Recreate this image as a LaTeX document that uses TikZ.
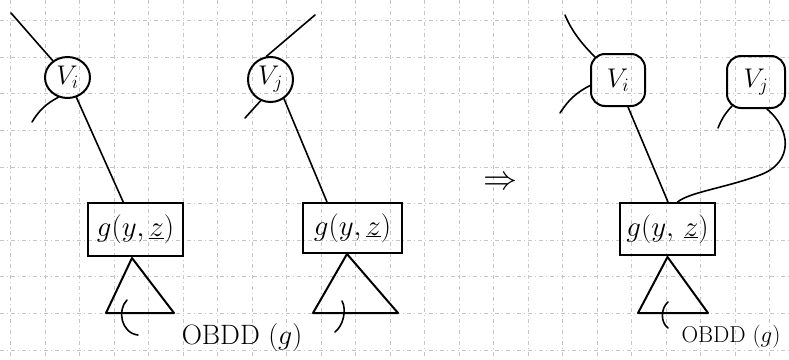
\RequirePackage{fix-cm}
\documentclass[tikz,border=0pt]{standalone}
\usetikzlibrary{shapes.geometric,calc}
\begin{document}
\begin{tikzpicture}[x=1pt,y=-1pt,
  gridline/.style={gray!45, line width=0.5pt, dash pattern=on 4pt off 3pt on 1pt off 3pt},
  vnode/.style={draw, ellipse, line width=2pt, inner sep=0pt, font=\fontsize{27}{30}\selectfont},
  bnode/.style={draw, rectangle, rounded corners=14pt, line width=2pt, inner sep=0pt, font=\fontsize{27}{30}\selectfont},
  gbox/.style={draw, rectangle, line width=2pt, inner sep=0pt, font=\fontsize{29}{32}\selectfont},
  edge/.style={line width=1.6pt, line cap=round},
  tri/.style={line width=2pt, line join=round},
  lbl/.style={inner sep=0pt, font=\fontsize{28}{30}\selectfont},
  lblsmall/.style={inner sep=0pt, font=\fontsize{23}{26}\selectfont}
]
\path[use as bounding box] (0,0) rectangle (789,359);
% background grid
\foreach \k in {0,...,22} \draw[gridline] ({10.5+34.5*\k},0) -- ({10.5+34.5*\k},359);
\foreach \k in {0,...,9} \draw[gridline] (0,{20.4+36.6*\k}) -- (789,{20.4+36.6*\k});

% ---------- left panel ----------
\node[vnode, minimum width=45pt, minimum height=41pt] (vi1) at (67.5,77.5) {$V_i$};
\node[gbox, minimum width=95pt, minimum height=53pt] (g1) at (135.5,229.5) {$g(y,\underline{z})$};
\coordinate (in1) at (11,13);
\coordinate (s1) at (32,122);
\draw[edge] (in1) -- (vi1);
\draw[edge] (vi1.245) to[bend right=15] (s1);
\draw[edge] (vi1) -- (g1);
\coordinate (a1) at ($(g1.south)+(-3.5,1)$);
\coordinate (bl1) at (106,313);
\coordinate (br1) at (174,313);
\draw[tri] (bl1) -- (a1) -- (br1) -- cycle;
\draw[edge] (127,300) .. controls (117,310) and (121,333) .. (138,335);
\node[lbl] (o1) at (242,337) {OBDD $(g)$};

% ---------- middle panel ----------
\node[vnode, minimum width=45pt, minimum height=45pt] (vj1) at (270.5,79.5) {$V_j$};
\node[gbox, minimum width=99pt, minimum height=50pt] (g2) at (352.5,228) {$g(y,\underline{z})$};
\coordinate (in2) at (315,15);
\coordinate (s2) at (245,118);
\draw[edge] (in2) -- (vj1.100);
\draw[edge] (vj1.245) -- (s2);
\draw[edge] (vj1.-55) -- ($(g2.north west)+(25,0)$);
\coordinate (a2) at ($(g2.south)+(-5.5,0)$);
\coordinate (bl2) at (313,313);
\coordinate (br2) at (398,313);
\draw[tri] (bl2) -- (a2) -- (br2) -- cycle;
\draw[edge] (342,301) .. controls (347,310) and (343,326) .. (335,332);

% ---------- implication ----------
\node[inner sep=0pt, font=\fontsize{34}{38}\selectfont] (imp) at (500,183) {$\Rightarrow$};

% ---------- right panel ----------
\node[bnode, minimum width=54pt, minimum height=52pt] (vi3) at (618,80) {$V_i$};
\node[bnode, minimum width=58pt, minimum height=52pt] (vj3) at (756,82) {$V_j$};
\node[gbox, minimum width=95pt, minimum height=52pt] (g3) at (667.5,229) {$g(y,\,\underline{z})$};
\coordinate (in3) at (565,15);
\coordinate (s3) at (560,113);
\coordinate (s4) at (718,128);
\draw[edge] (in3) .. controls (572,32) and (583,45) .. ($(vi3.north west)+(5,4)$);
\draw[edge] ($(vi3.west)+(1,5)$) to[bend right=15] (s3);
\draw[edge] ($(vi3.south)+(10,0)$) -- ($(g3.north)+(0.5,0)$);
\draw[edge] ($(vj3.south west)+(6,-3)$) to[bend right=10] (s4);
\draw[edge] ($(vj3.south)+(11,0)$) .. controls (790,128) and (795,162) .. (760,175)
            .. controls (725,188) and (690,192) .. ($(g3.north)+(10,0)$);
\coordinate (a3) at ($(g3.south)+(0,1)$);
\coordinate (bl3) at (638,313);
\coordinate (br3) at (708,313);
\draw[tri] (bl3) -- (a3) -- (br3) -- cycle;
\draw[edge] (668,302) .. controls (661,308) and (660,322) .. (668,328);
\node[lblsmall] (o3) at (731,337) {OBDD $(g)$};
\end{tikzpicture}
\end{document}
